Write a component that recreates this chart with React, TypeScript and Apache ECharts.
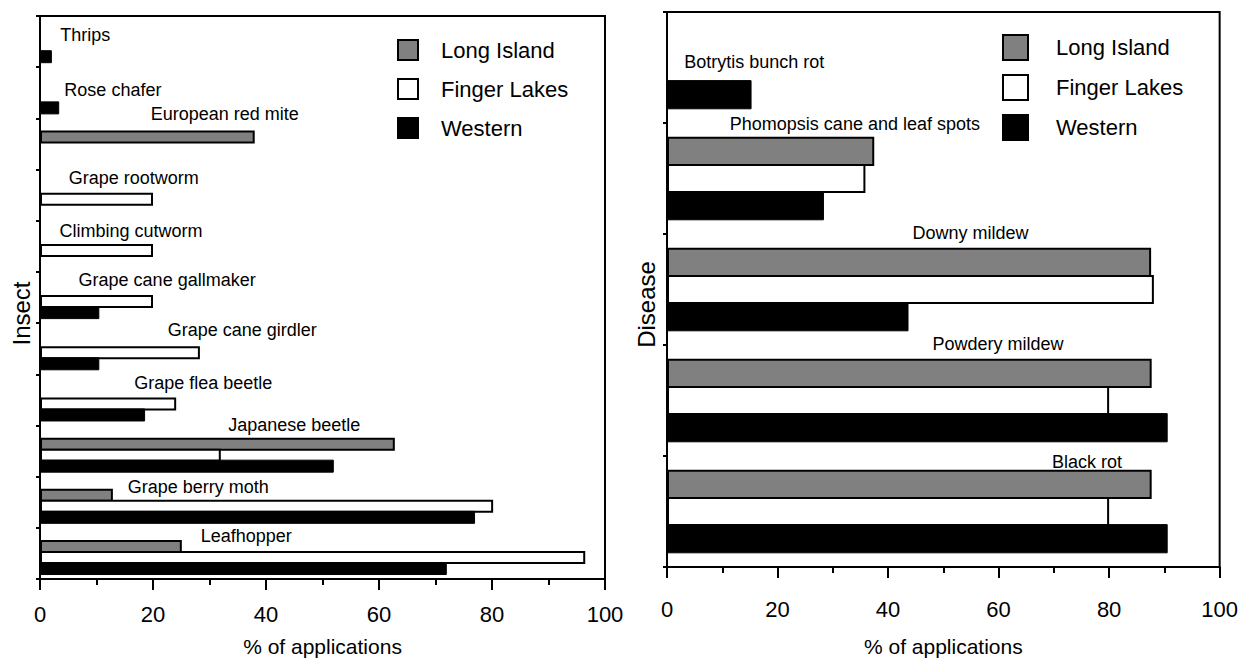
import React, { useEffect, useRef } from "react";
import * as echarts from "echarts";

// ---------- Data ----------
const insects = [
  "Thrips",
  "Rose chafer",
  "European red mite",
  "Grape rootworm",
  "Climbing cutworm",
  "Grape cane gallmaker",
  "Grape cane girdler",
  "Grape flea beetle",
  "Japanese beetle",
  "Grape berry moth",
  "Leafhopper",
];
const insectLongIsland = [0, 0, 38, 0, 0, 0, 0, 0, 62.8, 12.9, 25.1];
const insectFingerLakes = [0, 0, 0, 20, 20, 20, 28.3, 24.1, 32, 80.2, 96.5];
const insectWestern = [2.1, 3.4, 0, 0, 0, 10.5, 10.5, 18.6, 52, 77, 72];

const diseases = [
  "Botrytis bunch rot",
  "Phomopsis cane and leaf spots",
  "Downy mildew",
  "Powdery mildew",
  "Black rot",
];
const diseaseLongIsland = [0, 37.5, 87.6, 87.7, 87.7];
const diseaseFingerLakes = [0, 35.9, 88.1, 80, 80];
const diseaseWestern = [15.3, 28.4, 43.7, 90.6, 90.6];

const regions = ["Long Island", "Finger Lakes", "Western"];
const xMin = 0;
const xMax = 100;
const xInterval = 20;

// ---------- Label layout (centre in axis units, vertical shift in px) ----------
const insectLabelX = [8, 12.9, 32.7, 16.6, 16.1, 22.5, 35.8, 28.9, 45, 28, 36.5];
const insectLabelDy = [-6, -2, -8, -6, -4, -6, -7, -5, -4, 7, 5];
const diseaseLabelX = [15.8, 34, 54.9, 59.9, 76];
const diseaseLabelDy = [-9, -4, -6, -6, 1];

// ---------- Styles ----------
const FONT = "Liberation Sans, Arial, sans-serif";
const regionStyles = [
  { color: "#808080", borderColor: "#000", borderWidth: 2 },
  { color: "#ffffff", borderColor: "#000", borderWidth: 2 },
  { color: "#000000", borderColor: "#000", borderWidth: 1 },
];

function withLabels(
  values: number[],
  idx: number,
  all: number[][],
  names: string[],
  labelX: number[],
  labelDy: number[]
) {
  return values.map((v, i) => {
    const first = all.findIndex((s) => s[i] > 0);
    if (first !== idx) return v;
    return {
      value: v,
      label: {
        show: true,
        formatter: names[i],
        position: [`${(labelX[i] / v) * 100}%`, labelDy[i]],
        align: "center",
        verticalAlign: "bottom",
        fontFamily: FONT,
        fontSize: 18,
        color: "#000",
      },
    };
  });
}

export default function App() {
  const ref = useRef<HTMLDivElement>(null);

  useEffect(() => {
    if (!ref.current) return;
    const chart = echarts.init(ref.current, undefined, { renderer: "svg" });

    const insectAll = [insectLongIsland, insectFingerLakes, insectWestern];
    const diseaseAll = [diseaseLongIsland, diseaseFingerLakes, diseaseWestern];

    const xAxisBase = (gridIndex: number, labelMargin: number, nameGap: number) => ({
      type: "value",
      gridIndex,
      min: xMin,
      max: xMax,
      interval: xInterval,
      splitLine: { show: false },
      axisLine: { show: true, lineStyle: { color: "#000", width: 2 } },
      axisTick: { show: true, length: 11, lineStyle: { color: "#000", width: 2 } },
      minorTick: { show: true, splitNumber: 2, length: 6, lineStyle: { color: "#000", width: 2 } },
      axisLabel: { fontFamily: FONT, fontSize: 22, color: "#000", margin: labelMargin },
      name: "% of applications",
      nameLocation: "middle",
      nameGap,
      nameTextStyle: { fontFamily: FONT, fontSize: 21, color: "#000" },
    });

    const yAxisBase = (gridIndex: number, data: string[], name: string, nameGap: number, pad: number) => ({
      type: "category",
      gridIndex,
      data,
      inverse: true,
      axisLine: { show: true, lineStyle: { color: "#000", width: 2 } },
      axisTick: { show: true, length: 4, lineStyle: { color: "#000", width: 2 } },
      axisLabel: { show: false },
      name,
      nameLocation: "middle",
      nameGap,
      nameRotate: 90,
      nameTextStyle: { fontFamily: FONT, fontSize: 24, color: "#000", padding: [0, pad, 0, 0] },
    });

    const legendBase = (left: number, top: number, size: number, gap: number, textPad: number) => ({
      show: true,
      orient: "vertical",
      left,
      top,
      itemWidth: size,
      itemHeight: size,
      itemGap: gap,
      icon: "rect",
      selectedMode: false,
      textStyle: { fontFamily: FONT, fontSize: 22, color: "#000", padding: [0, 0, 0, textPad] },
      data: regions.map((r, i) => ({
        name: r,
        itemStyle: { ...regionStyles[i], borderWidth: 2 },
      })),
    });

    const series: any[] = [];
    // left chart: empty top slot in each band (room for the category names)
    series.push({
      type: "bar",
      name: "_pad",
      xAxisIndex: 0,
      yAxisIndex: 0,
      data: insects.map(() => 0),
      barWidth: "19%",
      barGap: "-15.4%",
      itemStyle: { color: "transparent" },
      silent: true,
    });
    regions.forEach((r, i) => {
      series.push({
        type: "bar",
        name: r,
        xAxisIndex: 0,
        yAxisIndex: 0,
        data: withLabels(insectAll[i], i, insectAll, insects, insectLabelX, insectLabelDy),
        barWidth: "25.4%",
        barGap: "-15.4%",
        itemStyle: regionStyles[i],
        silent: true,
      });
    });
    regions.forEach((r, i) => {
      series.push({
        type: "bar",
        name: r,
        xAxisIndex: 1,
        yAxisIndex: 1,
        data: withLabels(diseaseAll[i], i, diseaseAll, diseases, diseaseLabelX, diseaseLabelDy),
        barWidth: "26.3%",
        barGap: "-6.8%",
        itemStyle: regionStyles[i],
        silent: true,
      });
    });

    chart.setOption({
      animation: false,
      backgroundColor: "#fff",
      grid: [
        { left: 40, top: 16, width: 565, height: 563, show: true, borderColor: "#000", borderWidth: 2 },
        { left: 667, top: 12, width: 563, height: 555, show: true, borderColor: "#000", borderWidth: 2 },
      ],
      legend: [legendBase(392, 34, 20, 17, 18), legendBase(997, 29, 25, 13, 23)],
      xAxis: [xAxisBase(0, 24, 57), xAxisBase(1, 31, 69)],
      yAxis: [yAxisBase(0, insects, "Insect", 7, 32), yAxisBase(1, diseases, "Disease", 9, 30)],
      series,
    });

    return () => chart.dispose();
  }, []);

  return (
    <div
      ref={ref}
      style={{ position: "absolute", left: 0, top: 0, width: 1241, height: 662, background: "#fff" }}
    />
  );
}
